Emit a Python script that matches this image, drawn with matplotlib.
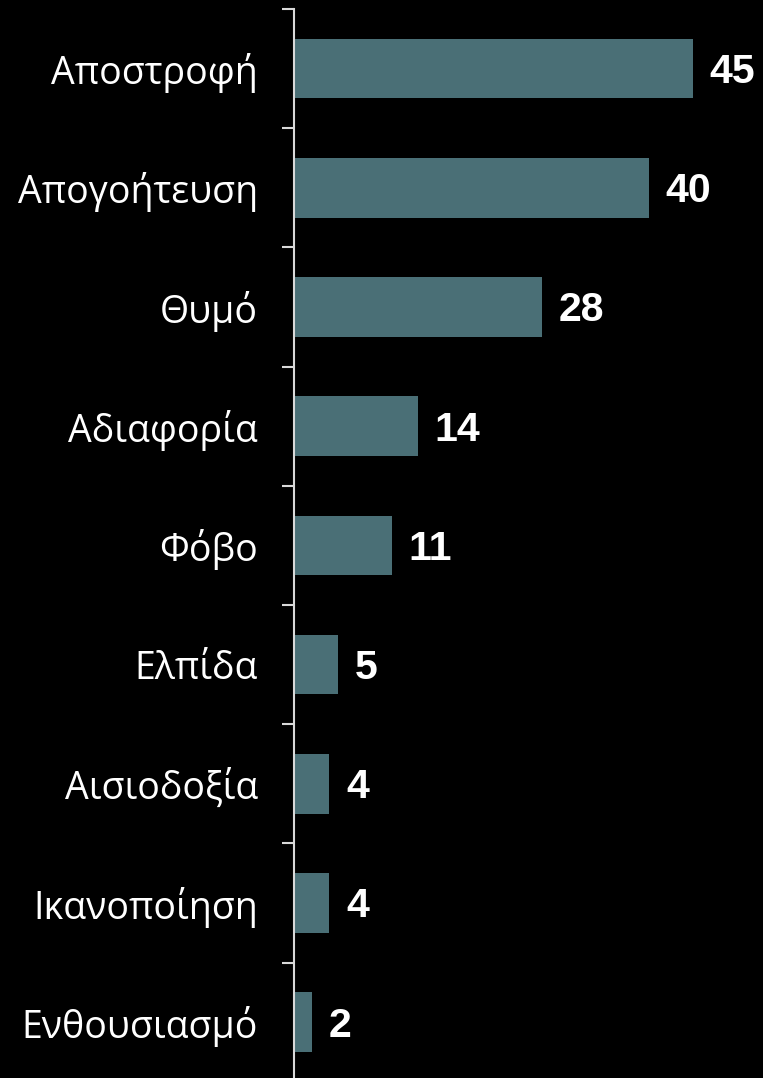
import numpy as np
import matplotlib as mpl
mpl.use("Agg")
import matplotlib.pyplot as plt

labels = ["Αποστροφή", "Απογοήτευση", "Θυμό", "Αδιαφορία", "Φόβο",
          "Ελπίδα", "Αισιοδοξία", "Ικανοποίηση", "Ενθουσιασμό"]
values = [45, 40, 28, 14, 11, 5, 4, 4, 2]

bar_color = "#4a6f76"
axis_color = "#d9d9d9"

W, H = 763, 1078
fig = plt.figure(figsize=(W / 100, H / 100), dpi=100, facecolor="black")
ax = fig.add_axes([294 / W, 1 - 1081.8 / H, 443.5 / W, 1072.8 / H])
ax.set_facecolor("black")

y = np.arange(len(labels))
ax.barh(y, values, height=0.5, color=bar_color)
ax.set_xlim(0, 50)
ax.set_ylim(len(labels) - 0.5, -0.5)

# labels at bar centres, tick marks between categories
ax.set_yticks(y)
ax.set_yticklabels(labels)
for t in ax.get_yticklabels():
    t.set_fontfamily(["Open Sans", "DejaVu Sans"])
    t.set_fontweight("normal")
    t.set_fontsize(27)
    t.set_color("white")
ax.tick_params(axis="y", which="major", length=0, pad=26)
ax.set_yticks(np.arange(len(labels) + 1) - 0.5, minor=True)
ax.tick_params(axis="y", which="minor", length=8.6, width=1.5, color=axis_color)
ax.set_xticks([])

for s in ["top", "right", "bottom"]:
    ax.spines[s].set_visible(False)
ax.spines["left"].set_color(axis_color)
ax.spines["left"].set_linewidth(1.5)

for yi, v in zip(y, values):
    ax.annotate(str(v), (v, yi), xytext=(12, -2.5), textcoords="offset points",
                va="center", ha="left", color="white", fontsize=29.5,
                fontweight="bold", fontfamily="Liberation Sans")

fig.savefig("out.png", dpi=100, facecolor="black")
